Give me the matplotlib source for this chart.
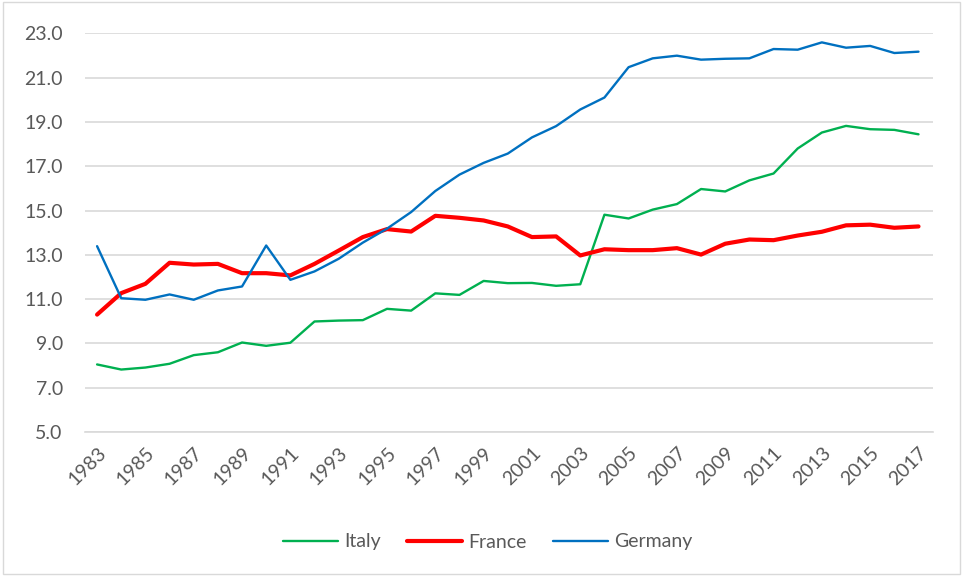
import matplotlib
matplotlib.use("Agg")
import matplotlib.pyplot as plt
from matplotlib.patches import Rectangle

years = list(range(1983, 2018))
italy = [8.05, 7.82, 7.91, 8.08, 8.47, 8.60, 9.04, 8.89, 9.03, 9.99, 10.03, 10.05,
         10.56, 10.48, 11.26, 11.19, 11.82, 11.72, 11.73, 11.60, 11.67, 14.81, 14.64,
         15.04, 15.29, 15.97, 15.86, 16.36, 16.67, 17.80, 18.52, 18.82, 18.67, 18.64, 18.44]
france = [10.30, 11.27, 11.69, 12.64, 12.56, 12.59, 12.17, 12.17, 12.07, 12.59, 13.19, 13.80,
          14.16, 14.05, 14.76, 14.67, 14.55, 14.28, 13.80, 13.83, 12.97, 13.25, 13.21,
          13.21, 13.30, 13.01, 13.50, 13.69, 13.66, 13.87, 14.04, 14.33, 14.36, 14.22, 14.28]
germany = [13.39, 11.04, 10.97, 11.21, 10.97, 11.39, 11.57, 13.42, 11.87, 12.25, 12.82, 13.55,
           14.18, 14.93, 15.88, 16.62, 17.15, 17.57, 18.30, 18.81, 19.56, 20.10, 21.47,
           21.87, 21.99, 21.81, 21.85, 21.87, 22.29, 22.26, 22.59, 22.35, 22.43, 22.11, 22.17]
y_ticks = [5.0, 7.0, 9.0, 11.0, 13.0, 15.0, 17.0, 19.0, 21.0, 23.0]
x_tick_years = years[::2]

plt.rcParams['font.family'] = ['Lato', 'DejaVu Sans']

fig = plt.figure(figsize=(9.63, 5.76), dpi=100)
ax = fig.add_axes([85/963, 1 - 432/576, (933 - 85)/963, (432 - 33.3)/576])

ax.plot(years, italy, color='#00B050', lw=1.7, label='Italy', solid_capstyle='round')
ax.plot(years, france, color='#FF0000', lw=3.0, label='France', solid_capstyle='round')
ax.plot(years, germany, color='#0070C0', lw=1.7, label='Germany', solid_capstyle='round')

ax.set_xlim(1982.5, 2017.6)
ax.set_ylim(5, 23)
ax.set_yticks(y_ticks)
ax.set_yticklabels([f"{v:.1f}" for v in y_ticks])
ax.set_xticks(x_tick_years)
ax.set_xticklabels([str(y) for y in x_tick_years], rotation=45, ha='right',
                   rotation_mode='anchor')
ax.grid(axis='y', color='#D9D9D9', lw=1.2)
ax.set_axisbelow(True)
for s in ['top', 'right', 'left']:
    ax.spines[s].set_visible(False)
ax.spines['bottom'].set_color('#D9D9D9')
ax.spines['bottom'].set_linewidth(1.2)
ax.tick_params(axis='both', length=0, labelsize=14, colors='#595959')
ax.tick_params(axis='y', pad=16)
ax.tick_params(axis='x', pad=9)

leg = fig.legend(loc='center', bbox_to_anchor=(0.506, 1 - 542/576), ncol=3, frameon=False,
                 fontsize=14, handlelength=2.85, columnspacing=1.35, handletextpad=0.3)
for t in leg.get_texts():
    t.set_color('#595959')

fig.patches.append(Rectangle((0.003, 0.003), 0.994, 0.994, transform=fig.transFigure,
                             fill=False, edgecolor='#D9D9D9', lw=1.0))

fig.savefig('out.png', dpi=100)
